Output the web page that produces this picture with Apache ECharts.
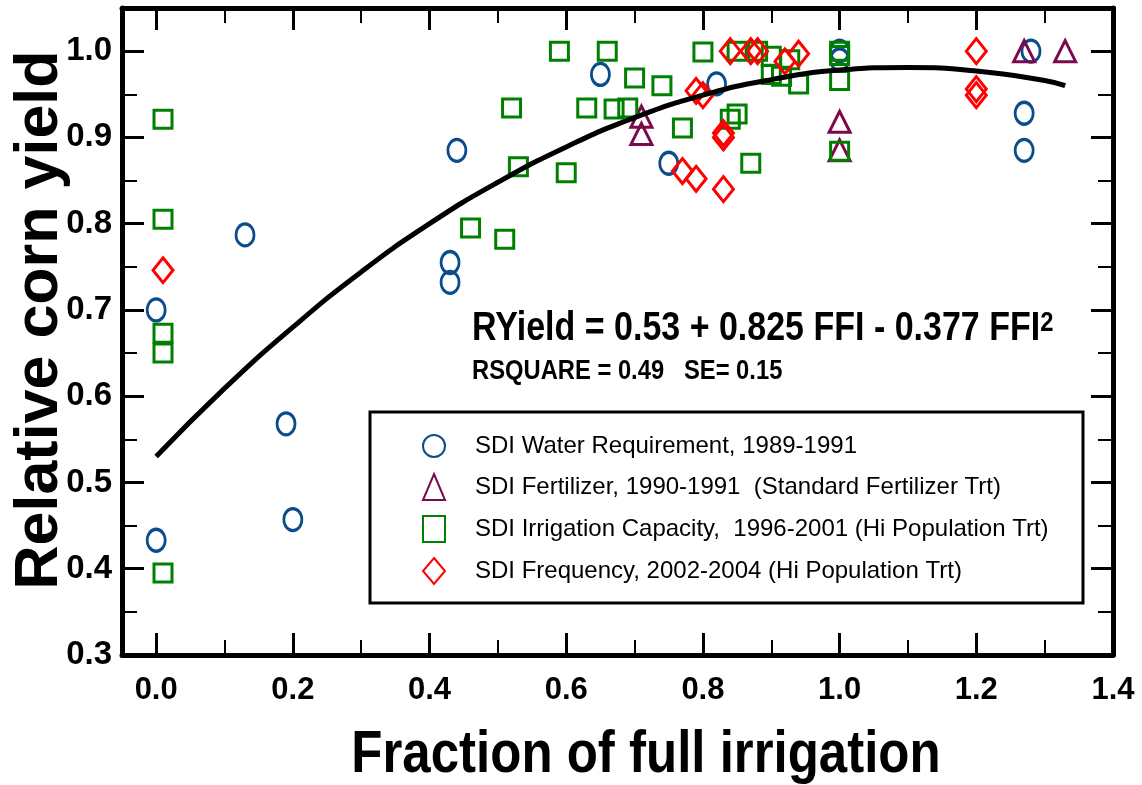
<!DOCTYPE html>
<html><head><meta charset="utf-8">
<script src="https://cdn.jsdelivr.net/npm/echarts@6/dist/echarts.min.js"></script>
<style>html,body{margin:0;padding:0;background:#fff}#c{width:1142px;height:785px}</style>
</head><body><div id="c"></div>
<script>
// ---- data ----
const seriesNames = [
  'SDI Water Requirement, 1989-1991',
  'SDI Fertilizer, 1990-1991  (Standard Fertilizer Trt)',
  'SDI Irrigation Capacity,  1996-2001 (Hi Population Trt)',
  'SDI Frequency, 2002-2004 (Hi Population Trt)'
];
const waterX = [0.0, 0.0, 0.13, 0.19, 0.20, 0.43, 0.43, 0.44, 0.65, 0.75, 0.82, 1.0, 1.0, 1.28, 1.27, 1.27];
const waterY = [0.700, 0.433, 0.787, 0.568, 0.457, 0.755, 0.732, 0.885, 0.973, 0.870, 0.962, 1.0, 0.99, 1.0, 0.928, 0.885];
const fertX = [0.71, 0.71, 1.0, 1.0, 1.27, 1.33];
const fertY = [0.924, 0.904, 0.918, 0.885, 1.0, 1.0];
const capX = [0.01, 0.01, 0.01, 0.01, 0.01, 0.46, 0.51, 0.52, 0.53, 0.59, 0.60, 0.63, 0.66, 0.67, 0.69, 0.70, 0.74, 0.77, 0.80, 0.84, 0.85, 0.87, 0.85, 0.88, 0.90, 0.90, 0.915, 0.927, 0.94, 1.0, 1.0, 1.0, 1.0];
const capY = [0.921, 0.805, 0.673, 0.650, 0.395, 0.795, 0.782, 0.934, 0.866, 1.0, 0.859, 0.934, 1.0, 0.933, 0.934, 0.969, 0.960, 0.911, 0.999, 0.921, 0.927, 0.870, 1.0, 1.0, 0.994, 0.973, 0.971, 0.990, 0.962, 1.0, 0.995, 0.966, 0.884];
const freqX = [0.01, 0.77, 0.79, 0.83, 0.79, 0.80, 0.83, 0.83, 0.84, 0.87, 0.88, 0.92, 0.94, 1.2, 1.2, 1.2];
const freqY = [0.746, 0.861, 0.852, 0.840, 0.954, 0.949, 0.905, 0.900, 1.0, 1.0, 1.0, 0.988, 0.997, 1.0, 0.956, 0.949];
const fitX = [0, 0.1, 0.2, 0.3, 0.4, 0.5, 0.6, 0.7, 0.8, 0.9, 1.0, 1.1, 1.2, 1.3, 1.33];
const fitY = [0.530, 0.609, 0.680, 0.744, 0.800, 0.848, 0.889, 0.923, 0.949, 0.967, 0.978, 0.981, 0.977, 0.966, 0.960];
const xTitle = 'Fraction of full irrigation';
const yTitle = 'Relative corn yield';
const eqText = 'RYield = 0.53 + 0.825 FFI - 0.377 FFI';
const eqSup = '2';
const statText = 'RSQUARE = 0.49   SE= 0.15';

const zip = (xs, ys) => xs.map((x, i) => [x, ys[i]]);
const SANS = "'Liberation Sans',Arial,sans-serif";

const chart = echarts.init(document.getElementById('c'), null, {renderer: 'canvas'});

function axisX(pos, labels) {
  return {
    type: 'value', position: pos, min: -0.05, max: 1.4, splitNumber: 7,
    axisLine: {show: true, onZero: false, lineStyle: {color: '#000', width: 5}},
    axisTick: {show: true, inside: true, length: 22, lineStyle: {color: '#000', width: 3}},
    minorTick: {show: true, splitNumber: 2, length: 15, lineStyle: {color: '#000', width: 2}},
    splitLine: {show: false},
    axisLabel: {show: labels, showMinLabel: false, margin: 20, color: '#000', fontFamily: SANS, fontWeight: 'bold', fontSize: 31,
      formatter: v => v.toFixed(1)}
  };
}
function axisY(pos, labels) {
  return {
    type: 'value', position: pos, min: 0.3, max: 1.05, interval: 0.1,
    axisLine: {show: true, onZero: false, lineStyle: {color: '#000', width: 5}},
    axisTick: {show: true, inside: true, length: 22, lineStyle: {color: '#000', width: 3}},
    minorTick: {show: true, splitNumber: 2, length: 15, lineStyle: {color: '#000', width: 2}},
    splitLine: {show: false},
    axisLabel: {show: labels, showMaxLabel: false, margin: 10, color: '#000', fontFamily: SANS, fontWeight: 'bold', fontSize: 33,
      formatter: v => v.toFixed(1)}
  };
}
function sc(name, data, symbol, size, color) {
  return {
    name, type: 'scatter', data, symbol, symbolSize: size,
    itemStyle: {color: 'rgba(255,255,255,0)', borderColor: color, borderWidth: 3, opacity: 1},
    emphasis: {disabled: true}
  };
}

chart.setOption({
  animation: false,
  backgroundColor: '#fff',
  grid: {left: 122, right: 29, top: 8, bottom: 130, containLabel: false},
  xAxis: [axisX('bottom', true), axisX('top', false)],
  yAxis: [axisY('left', true), axisY('right', false)],
  legend: {
    orient: 'vertical', left: 417, top: 428, itemWidth: 22, itemHeight: 26, itemGap: 14,
    selectedMode: false, data: seriesNames,
    textStyle: {fontFamily: SANS, fontSize: 24, lineHeight: 26, color: '#000', padding: [0, 0, 0, 25]}
  },
  graphic: [
    {type: 'rect', shape: {x: 370, y: 412, width: 713, height: 191}, style: {fill: 'none', stroke: '#000', lineWidth: 3}, z: 1},
    {type: 'text', x: 40, y: 320, rotation: Math.PI / 2,
      style: {text: yTitle, font: 'bold 61px ' + SANS, fill: '#000', textAlign: 'center', textVerticalAlign: 'middle'}},
    {type: 'text', x: 646, y: 755, scaleX: 0.85,
      style: {text: xTitle, font: 'bold 60px ' + SANS, fill: '#000', textAlign: 'center', textVerticalAlign: 'middle'}},
    {type: 'text', x: 472, y: 329, scaleX: 0.85,
      style: {text: '{a|' + eqText + '}{s|' + eqSup + '}', textAlign: 'left', textVerticalAlign: 'middle',
        rich: {a: {fontFamily: SANS, fontWeight: 'bold', fontSize: 40, fill: '#000'},
               s: {fontFamily: SANS, fontWeight: 'bold', fontSize: 28, fill: '#000', verticalAlign: 'top'}}}},
    {type: 'text', x: 472, y: 372, scaleX: 0.88,
      style: {text: statText, font: 'bold 27px ' + SANS, fill: '#000', textAlign: 'left', textVerticalAlign: 'middle'}}
  ],
  series: [
    sc(seriesNames[0], zip(waterX, waterY), 'circle', [18, 22], '#0b4c8c'),
    sc(seriesNames[1], zip(fertX, fertY), 'triangle', [21, 21], '#7a0a4a'),
    sc(seriesNames[2], zip(capX, capY), 'rect', [18, 18], '#008000'),
    sc(seriesNames[3], zip(freqX, freqY), 'diamond', [20, 25], '#ff0000'),
    {type: 'line', data: zip(fitX, fitY), smooth: true, showSymbol: false, symbol: 'none',
      lineStyle: {color: '#000', width: 5}, emphasis: {disabled: true}, z: 5}
  ]
});
</script></body></html>
